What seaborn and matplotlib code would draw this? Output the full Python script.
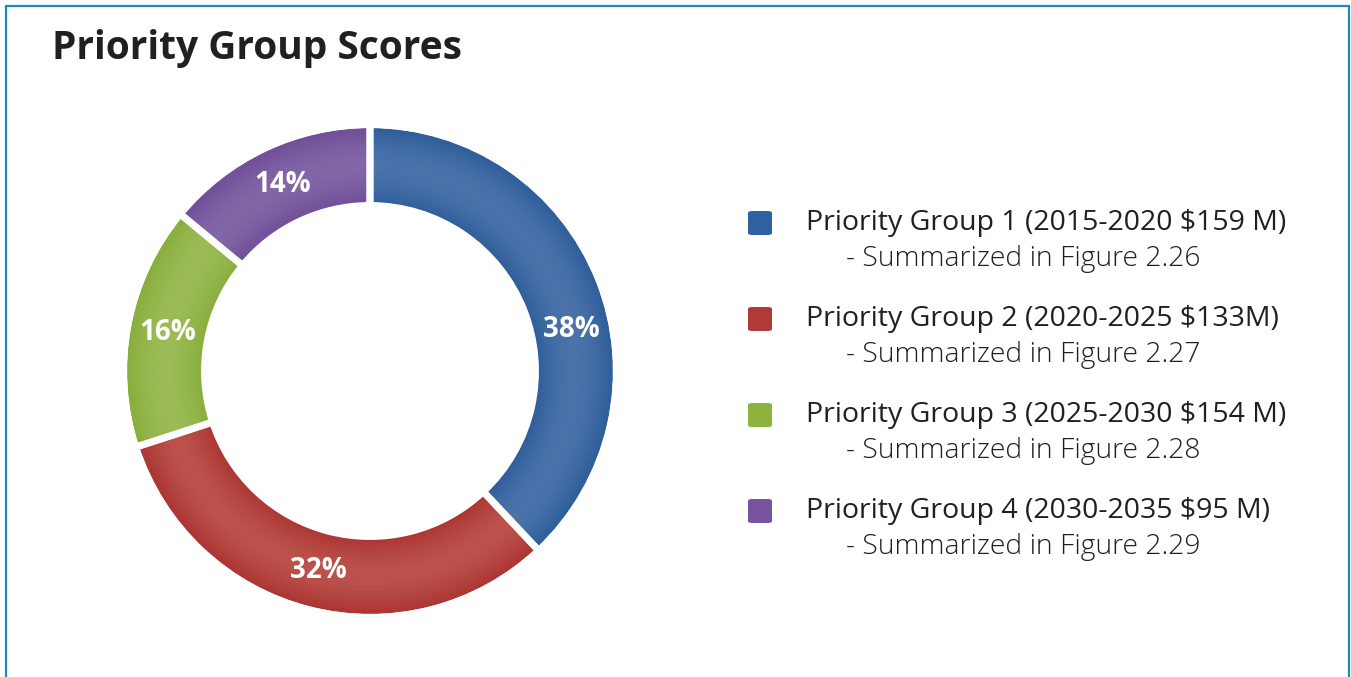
import numpy as np
import matplotlib.pyplot as plt
import matplotlib.colors as mcolors
from matplotlib.lines import Line2D
from matplotlib.patches import FancyBboxPatch
import seaborn as sns

# --- données ---
groupes = ['Priority Group 1 (2015-2020 $159 M)',
           'Priority Group 2 (2020-2025 $133M)',
           'Priority Group 3 (2025-2030 $154 M)',
           'Priority Group 4 (2030-2035 $95 M)']
sous_titres = ['- Summarized in Figure 2.26',
               '- Summarized in Figure 2.27',
               '- Summarized in Figure 2.28',
               '- Summarized in Figure 2.29']
pourcentages = [38, 32, 16, 14]

# couleurs : bord sombre / centre clair de l'anneau, et carrés de légende
couleurs_sombres = ['#2f5e9b', '#ac3532', '#88ae3c', '#6f4f99']
couleurs_claires = ['#4b73aa', '#bb524b', '#9cbb56', '#8266a6']
couleurs_legende = ['#2f60a0', '#b03a37', '#8db33f', '#7654a0']
decalage_labels = [-10, 0, 0, 0]  # degrés

sns.set_theme(style='white')
plt.rcParams['font.family'] = ['Open Sans', 'DejaVu Sans']

fig = plt.figure(figsize=(13.51, 6.77), dpi=100)
fig.patch.set_facecolor('white')

# axes du donut : centre (370, 371) px, rayon 243 px
W, H = 1351, 677
cx, cy, demi = 370, 371, 262
ax = fig.add_axes([(cx - demi) / W, (H - cy - demi) / H, 2 * demi / W, 2 * demi / H])

largeur = 0.305
r_in = 1 - largeur
n_couches = 24
for i in range(n_couches):
    t = (i + 0.5) / n_couches
    m = 1 - abs(2 * t - 1) ** 1.6
    cols = []
    for cs, cc in zip(couleurs_sombres, couleurs_claires):
        a = np.array(mcolors.to_rgb(cs))
        b = np.array(mcolors.to_rgb(cc))
        cols.append(tuple(a * (1 - m) + b * m))
    r_out = r_in + largeur * (i + 1) / n_couches
    ax.pie(pourcentages, radius=r_out, colors=cols, startangle=90,
           counterclock=False,
           wedgeprops=dict(width=largeur / n_couches + 0.004, linewidth=0))

# séparations blanches entre les parts
d = 0.014
ax.pie(pourcentages, radius=1 + d, colors=['none'] * 4, startangle=90, counterclock=False,
       wedgeprops=dict(width=largeur + 2 * d, edgecolor='white', linewidth=5, fill=False))

lim = demi / 243
ax.set_xlim(-lim, lim)
ax.set_ylim(-lim, lim)
ax.set_aspect('equal')
ax.axis('off')

# étiquettes de pourcentage
cumul = np.cumsum([0] + pourcentages)
for k, p in enumerate(pourcentages):
    ang = 90 - (cumul[k] + p / 2) / sum(pourcentages) * 360 + decalage_labels[k]
    r = 1 - largeur / 2
    ax.text(r * np.cos(np.radians(ang)), r * np.sin(np.radians(ang)), f'{p}%',
            ha='center', va='center', color='white', fontsize=20, fontweight='bold')

# titre
fig.text(52 / W, 1 - 49 / H, 'Priority Group Scores', fontsize=28, fontweight='bold',
         color='#231f20', ha='left', va='center')

# légende
for k in range(4):
    yc = 223 + 96 * k
    fig.patches.append(FancyBboxPatch((748 / W, 1 - (yc + 12) / H), 24 / W, 24 / H,
                                      boxstyle='round,pad=0,rounding_size=0.003',
                                      transform=fig.transFigure, facecolor=couleurs_legende[k],
                                      edgecolor='none', figure=fig))
    fig.text(806 / W, 1 - yc / H, groupes[k], fontsize=20.5, color='#231f20',
             ha='left', va='center')
    fig.text(846 / W, 1 - (yc + 36) / H, sous_titres[k], fontsize=20.3, color='#231f20',
             ha='left', va='center', fontweight='light')

# cadre
bleu = '#1a8ab8'
fig.add_artist(Line2D([6 / W, 6 / W], [0, 1 - 6 / H], color=bleu, lw=1.6, transform=fig.transFigure))
fig.add_artist(Line2D([6 / W, 1349 / W], [1 - 6 / H, 1 - 6 / H], color=bleu, lw=1.6, transform=fig.transFigure))
fig.add_artist(Line2D([1349 / W, 1349 / W], [0, 1 - 6 / H], color=bleu, lw=1.6, transform=fig.transFigure))

plt.savefig('out.png', dpi=100)
